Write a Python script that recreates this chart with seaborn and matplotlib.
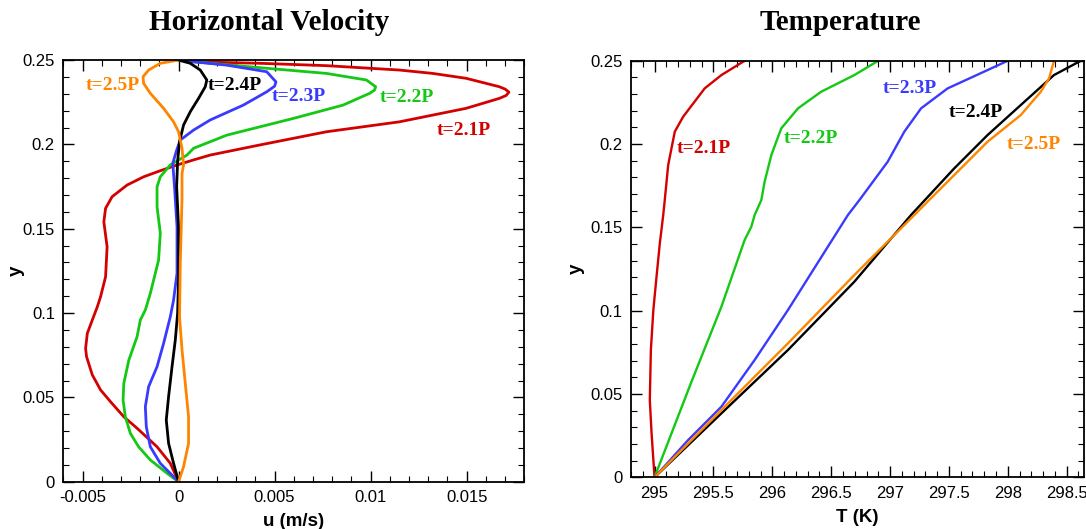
import numpy as np
import pandas as pd
import matplotlib
matplotlib.use("Agg")
import matplotlib.pyplot as plt
from matplotlib.ticker import MultipleLocator, FuncFormatter
import seaborn as sns

# ---------------- data: horizontal velocity (u, y) ----------------
u21 = [0, -0.00043, -0.00112, -0.00216, -0.00285, -0.00354, -0.00406, -0.00449, -0.00479, -0.00484,
       -0.00475, -0.00449, -0.00423, -0.00406, -0.0038, -0.00372, -0.00389, -0.0038, -0.00346, -0.00268,
       -0.00182, -0.00095, -0.00008, 0.00078, 0.00165, 0.00424, 0.0077, 0.0115, 0.01497, 0.0167,
       0.01705, 0.0172, 0.0170, 0.0167, 0.01497, 0.01323, 0.0115, 0.0077, 0.00424, 0.00078, 0]
yu21 = [0, 0.0109, 0.0207, 0.0317, 0.0385, 0.0474, 0.0544, 0.0633, 0.0741, 0.0791,
        0.088, 0.0959, 0.1037, 0.1097, 0.1215, 0.1393, 0.1541, 0.1621, 0.169, 0.1759,
        0.1808, 0.1844, 0.1878, 0.1908, 0.1937, 0.1997, 0.2075, 0.2134, 0.2214, 0.2273,
        0.229, 0.231, 0.2328, 0.2342, 0.2392, 0.2421, 0.2441, 0.2467, 0.2481, 0.249, 0.25]

u22 = [0, -0.0006, -0.00147, -0.00208, -0.00251, -0.00277, -0.00289, -0.00285, -0.00259, -0.00216,
       -0.00199, -0.00173, -0.00147, -0.00104, -0.00095, -0.00112, -0.00112, -0.00095, -0.00043, 0.00044,
       0.00078, 0.00165, 0.00251, 0.00597, 0.00856, 0.00995, 0.0102, 0.01026, 0.00978, 0.0077,
       0.00424, 0.00165, 0]
yu22 = [0, 0.005, 0.0129, 0.0207, 0.0287, 0.0385, 0.0484, 0.0583, 0.0721, 0.086,
        0.0959, 0.1018, 0.1117, 0.1314, 0.1473, 0.163, 0.1749, 0.1808, 0.1878, 0.1937,
        0.1977, 0.2016, 0.2055, 0.2154, 0.2233, 0.2303, 0.2322, 0.2342, 0.2382, 0.2421,
        0.2455, 0.2481, 0.25]

u23 = [0, -0.00095, -0.00147, -0.00168, -0.00173, -0.00156, -0.00112, -0.00078, -0.00043, -0.00026,
       -0.00008, -0.00008, -0.0002, -0.0003, -0.0001, 0.00009, 0.00078, 0.00165, 0.00337, 0.00459,
       0.00500, 0.00507, 0.00459, 0.00251, 0.00078, 0]
yu23 = [0, 0.0109, 0.0207, 0.0326, 0.0445, 0.0563, 0.0682, 0.082, 0.0978, 0.1077,
        0.1236, 0.1512, 0.1729, 0.1888, 0.1966, 0.2026, 0.2085, 0.2145, 0.2233, 0.2312,
        0.2345, 0.2371, 0.2431, 0.247, 0.249, 0.25]

u24 = [0, -0.00026, -0.00052, -0.00064, -0.00052, -0.00034, -0.00017, -0.00005, 0, 0,
       -0.00005, -0.0001, -0.00005, 0.00005, 0.00026, 0.00061, 0.00104, 0.00139, 0.00147, 0.00113,
       0.00061, 0]
yu24 = [0, 0.0109, 0.0228, 0.0366, 0.0504, 0.0682, 0.084, 0.0999, 0.12, 0.15,
        0.163, 0.175, 0.19, 0.2016, 0.2115, 0.2194, 0.2273, 0.2342, 0.2382, 0.2441,
        0.2481, 0.25]

u25 = [0, 0.00026, 0.00052, 0.00052, 0.00035, 0.00018, 0.00005, 0.00009, 0.00018, 0.00018,
       0.00026, 0.00018, 0, -0.00026, -0.00078, -0.00147, -0.00182, -0.00185, -0.00156, -0.00095, 0]
yu25 = [0, 0.0089, 0.0228, 0.0385, 0.0583, 0.0781, 0.0978, 0.13, 0.168, 0.1828,
        0.1878, 0.1977, 0.2075, 0.2134, 0.2214, 0.2303, 0.2362, 0.2401, 0.2441, 0.2481, 0.25]

# ---------------- data: temperature (T, y) ----------------
T21 = [295, 294.975, 294.96, 294.969, 294.99, 295.017, 295.045, 295.074, 295.087, 295.116,
       295.172, 295.243, 295.426, 295.568, 295.752, 295.77]
yT21 = [0, 0.0264, 0.0464, 0.0764, 0.1004, 0.1204, 0.1404, 0.1574, 0.1664, 0.1874,
        0.2074, 0.2164, 0.2334, 0.2414, 0.2494, 0.25]

T22 = [295, 295.314, 295.568, 295.765, 295.822, 295.85, 295.907, 295.935, 295.992, 296.076,
       296.218, 296.415, 296.697, 296.9]
yT22 = [0, 0.0574, 0.1024, 0.1424, 0.1504, 0.1574, 0.1664, 0.1774, 0.1934, 0.2094,
        0.2214, 0.2314, 0.2414, 0.25]

T23 = [295, 295.286, 295.568, 295.85, 296.133, 296.472, 296.642, 296.74, 296.98, 297.121,
       297.263, 297.489, 297.828, 298.0]
yT23 = [0, 0.0224, 0.0424, 0.0704, 0.1004, 0.1384, 0.1574, 0.1664, 0.1894, 0.2074,
        0.2214, 0.2334, 0.2444, 0.25]

T24 = [295, 295.568, 296.133, 296.697, 297.178, 297.545, 297.828, 298.11, 298.392, 298.62]
yT24 = [0, 0.0384, 0.0764, 0.1174, 0.1574, 0.1854, 0.2054, 0.2234, 0.2414, 0.25]

T25 = [295, 295.568, 296.133, 296.697, 297.206, 297.318, 297.545, 297.828, 298.11, 298.28,
       298.35, 298.39, 298.4]
yT25 = [0, 0.0404, 0.0804, 0.1214, 0.1574, 0.1654, 0.1814, 0.2014, 0.2174, 0.2314,
        0.2394, 0.2494, 0.25]

series_names = ["t=2.1P", "t=2.2P", "t=2.3P", "t=2.4P", "t=2.5P"]
colors = ["#d40000", "#14c814", "#3a3aff", "#000000", "#ff8400"]

# label anchor positions (data coords)
u_label_x = [0.01483, 0.01187, 0.00626, 0.00294, -0.00344]
u_label_y = [0.2085, 0.2277, 0.2282, 0.2352, 0.2352]
T_label_x = [295.415, 296.33, 297.165, 297.73, 298.216]
T_label_y = [0.1974, 0.2034, 0.2334, 0.219, 0.1998]

u_sets = [(u21, yu21), (u22, yu22), (u23, yu23), (u24, yu24), (u25, yu25)]
T_sets = [(T21, yT21), (T22, yT22), (T23, yT23), (T24, yT24), (T25, yT25)]

df_u = pd.concat([pd.DataFrame({"x": xs, "y": ys, "series": n})
                  for (xs, ys), n in zip(u_sets, series_names)], ignore_index=True)
df_T = pd.concat([pd.DataFrame({"x": xs, "y": ys, "series": n})
                  for (xs, ys), n in zip(T_sets, series_names)], ignore_index=True)

sns.set_theme(style="ticks")
plt.rcParams["font.family"] = ["Liberation Sans", "DejaVu Sans"]
plt.rcParams["axes.linewidth"] = 1.3
for k in ["text.color", "axes.labelcolor", "xtick.color", "ytick.color", "axes.edgecolor"]:
    plt.rcParams[k] = "black"

fig = plt.figure(figsize=(10.86, 5.29), dpi=100)
ax1 = fig.add_axes([0.0583, 0.0894, 0.4245, 0.797])
ax2 = fig.add_axes([0.581, 0.0977, 0.4175, 0.7875])

palette = dict(zip(series_names, colors))

sns.lineplot(data=df_u, x="x", y="y", hue="series", palette=palette, sort=False,
             estimator=None, legend=False, linewidth=2.0, ax=ax1)
sns.lineplot(data=df_T, x="x", y="y", hue="series", palette=palette, sort=False,
             estimator=None, legend=False, linewidth=1.7, ax=ax2)

fmt = FuncFormatter(lambda v, p: "%g" % round(v, 6))

def style_axes(ax, xlim, xmaj, xmin, xlabel, ylab_x):
    ax.set_xlim(*xlim)
    ax.set_ylim(0, 0.25)
    ax.xaxis.set_major_locator(MultipleLocator(xmaj))
    ax.xaxis.set_minor_locator(MultipleLocator(xmin))
    ax.yaxis.set_major_locator(MultipleLocator(0.05))
    ax.yaxis.set_minor_locator(MultipleLocator(0.01))
    ax.xaxis.set_major_formatter(fmt)
    ax.yaxis.set_major_formatter(fmt)
    ax.tick_params(which="both", direction="in", top=True, right=True, colors="black",
                   labelsize=12, pad=6)
    ax.tick_params(which="major", length=8, width=1.0)
    ax.tick_params(which="minor", length=4, width=0.8)
    for s in ax.spines.values():
        s.set_color("black")
        s.set_linewidth(1.3)
    ax.set_xlabel(xlabel, fontsize=13.5, fontweight="bold", labelpad=6)
    ax.set_ylabel("y", fontsize=13.5, fontweight="bold")
    ax.yaxis.set_label_coords(ylab_x, 0.5)

style_axes(ax1, (-0.006, 0.018), 0.005, 0.001, "u (m/s)", -0.083)
style_axes(ax2, (294.8, 298.65), 0.5, 0.1, "T (K)", -0.102)

for n, c, x, y in zip(series_names, colors, u_label_x, u_label_y):
    ax1.text(x, y, n, color=c, fontsize=14, fontweight="bold", family="Liberation Serif",
             ha="center", va="center")
for n, c, x, y in zip(series_names, colors, T_label_x, T_label_y):
    ax2.text(x, y, n, color=c, fontsize=14, fontweight="bold", family="Liberation Serif",
             ha="center", va="center")

fig.text(269 / 1086, 1 - 22 / 529, "Horizontal Velocity", fontsize=21, fontweight="bold",
         family="Liberation Serif", ha="center", va="center", color="black")
fig.text(840 / 1086, 1 - 22 / 529, "Temperature", fontsize=21, fontweight="bold",
         family="Liberation Serif", ha="center", va="center", color="black")

fig.savefig("out.png", dpi=100)
